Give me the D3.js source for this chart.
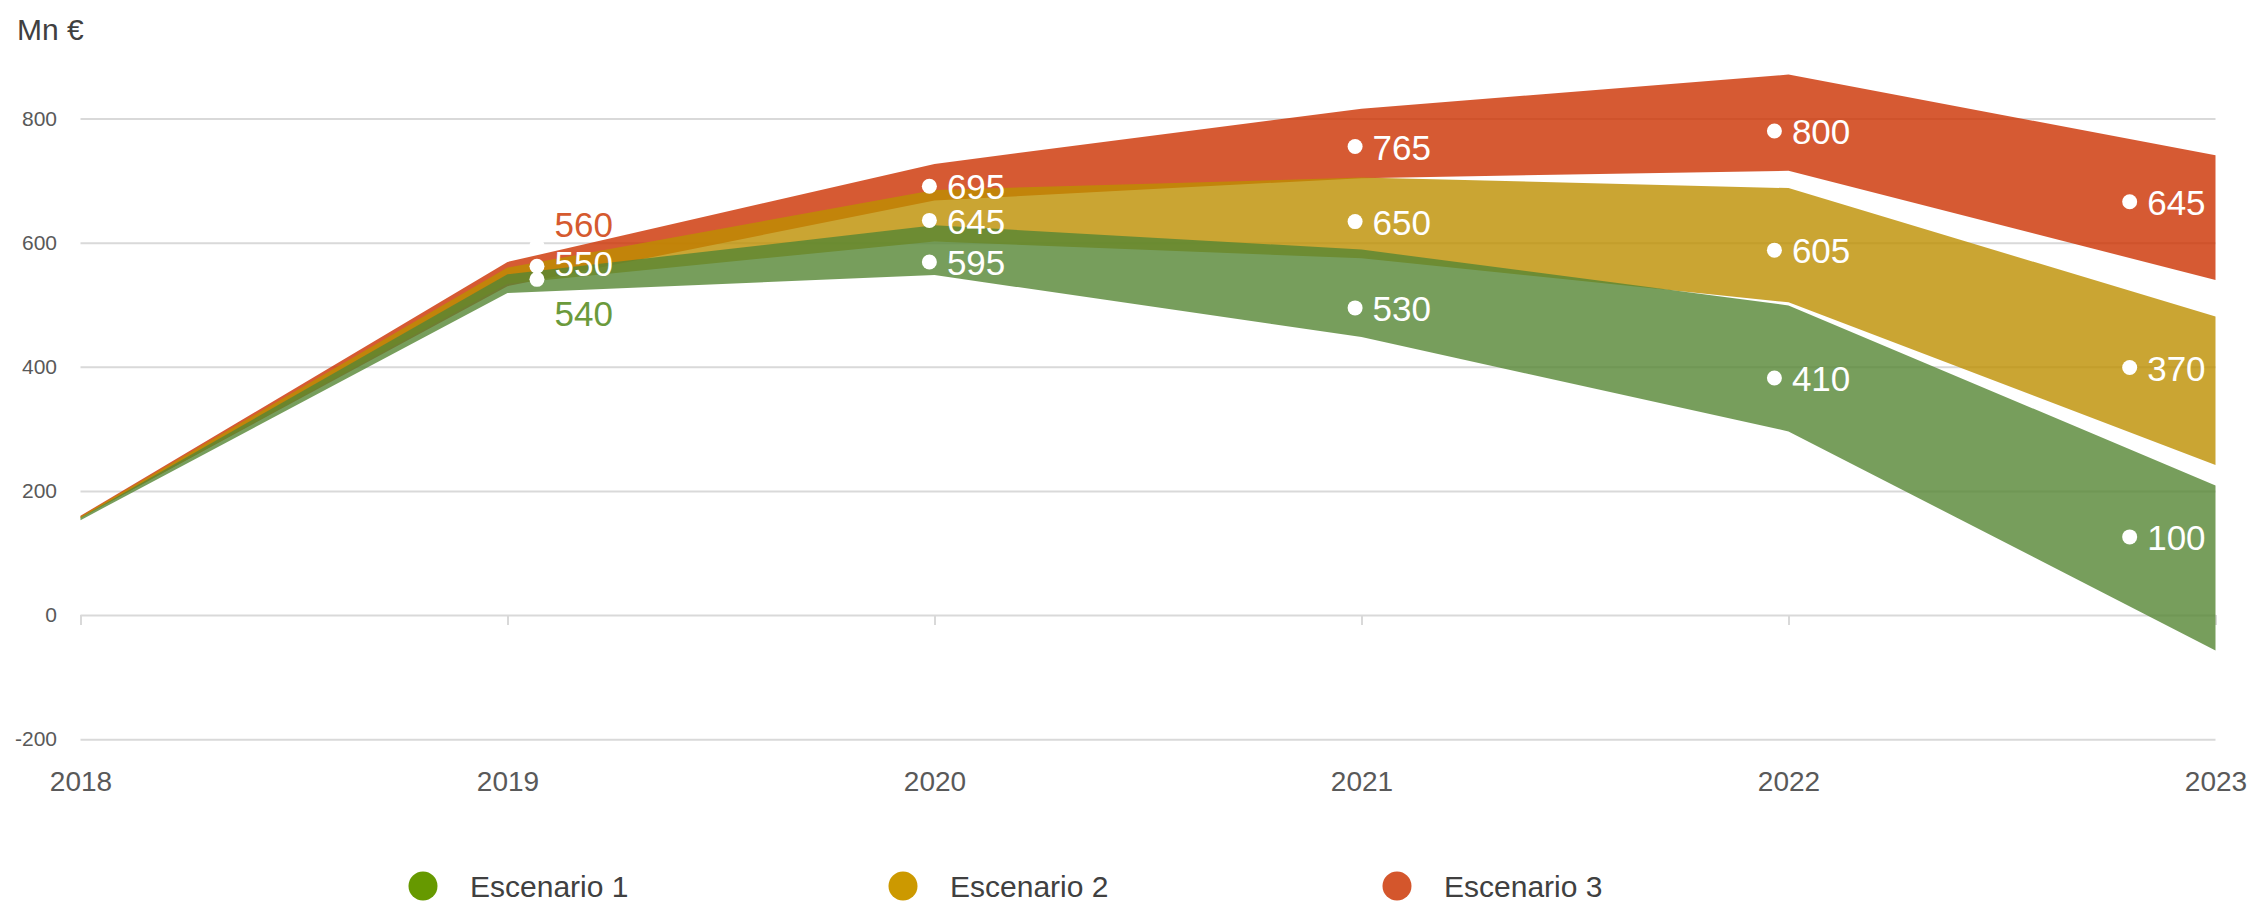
<!DOCTYPE html>
<html>
<head>
<meta charset="utf-8">
<script src="https://cdn.jsdelivr.net/npm/d3@7"></script>
<style>
  html, body { margin: 0; padding: 0; background: #ffffff; }
  svg { display: block; font-family: "Liberation Sans", Arial, sans-serif; }
</style>
</head>
<body>
<svg id="chart" width="2254" height="902"></svg>
<script>
// ---- data ----
const years = [2018, 2019, 2020, 2021, 2022, 2023];
const yTicks = [-200, 0, 200, 400, 600, 800];
const seriesNames = ["Escenario 1", "Escenario 2", "Escenario 3"];

// band lower / upper bounds (Mn €)
const esc1Low  = [153, 519, 548, 448, 296, -57];
const esc1High = [157, 549, 628, 589, 499, 209];
const esc2Low  = [156, 534, 602, 575, 504, 242];
const esc2High = [159, 560, 685, 705, 688, 481];
const esc3Low  = [157, 530, 668, 704, 716, 540];
const esc3High = [160, 569, 727, 816, 871, 741];

// marker points (x in years, y in Mn €) and their labels
const pointYears   = [2019.069, 2019.988, 2020.985, 2021.967, 2022.799];
const esc1Points   = [541, 569, 495, 382, 126];
const esc2Points   = [562, 636, 634, 588, 399];
const esc3Points   = [595, 691, 755, 780, 666];
const esc1Labels   = ["540", "595", "530", "410", "100"];
const esc2Labels   = ["550", "645", "650", "605", "370"];
const esc3Labels   = ["560", "695", "765", "800", "645"];

// ---- styles ----
const bandFill   = ["#558633", "#bd8e00", "#cc3100"];
const legendFill = ["#669900", "#cc9900", "#d4562c"];
const firstLabelColor = ["#6b9a3c", "#ffffff", "#d55a2f"];

const svg = d3.select("#chart");
const x = d3.scaleLinear().domain([2018, 2023]).range([80.5, 2215.5]);
const y = d3.scaleLinear().domain([-200, 800]).range([739.2, 118.6]);

// y axis with gridlines
const yAxis = svg.append("g")
  .attr("transform", `translate(${x(2018)},0)`)
  .call(d3.axisLeft(y).tickValues(yTicks).tickFormat(d => String(d))
        .tickSize(-(x(2023) - x(2018))).tickPadding(23.5));
yAxis.select(".domain").remove();
yAxis.selectAll(".tick line").attr("stroke", "#d9d9d9").attr("stroke-width", 2);
yAxis.selectAll(".tick text").attr("fill", "#595959").attr("font-size", 21)
  .attr("font-family", "Liberation Sans, Arial, sans-serif");

// x axis
const xAxis = svg.append("g")
  .attr("transform", `translate(0,${y(0)})`)
  .call(d3.axisBottom(x).tickValues(years).tickFormat(d => String(d))
        .tickSize(10).tickPadding(146));
xAxis.select(".domain").remove();
xAxis.selectAll(".tick line").attr("stroke", "#d9d9d9").attr("stroke-width", 2);
xAxis.selectAll(".tick text").attr("fill", "#595959").attr("font-size", 28)
  .attr("font-family", "Liberation Sans, Arial, sans-serif");

// bands
const bands = [
  {low: esc1Low, high: esc1High},
  {low: esc2Low, high: esc2High},
  {low: esc3Low, high: esc3High}
];
const area = d3.area()
  .x((d, i) => x(years[i]))
  .y0(d => y(d[0]))
  .y1(d => y(d[1]));
[2, 1, 0].forEach(s => {
  const pts = years.map((yr, i) => [bands[s].low[i], bands[s].high[i]]);
  svg.append("path").datum(pts)
    .attr("d", area)
    .attr("fill", bandFill[s])
    .attr("fill-opacity", 0.8);
});

// points and labels
const pointSets = [esc1Points, esc2Points, esc3Points];
const labelSets = [esc1Labels, esc2Labels, esc3Labels];
const firstShift = [34, -3, -21];
[2, 1, 0].forEach(s => {
  pointSets[s].forEach((v, i) => {
    svg.append("circle")
      .attr("cx", x(pointYears[i])).attr("cy", y(v)).attr("r", 7.5)
      .attr("fill", "#ffffff");
  });
});
[2, 1, 0].forEach(s => {
  pointSets[s].forEach((v, i) => {
    svg.append("text")
      .attr("x", x(pointYears[i]) + 17.5)
      .attr("y", y(v) + (i === 0 ? firstShift[s] : 1))
      .attr("dy", "0.35em")
      .attr("font-size", 35)
      .attr("fill", i === 0 ? firstLabelColor[s] : "#ffffff")
      .text(labelSets[s][i]);
  });
});

// unit title
svg.append("text").attr("x", 17).attr("y", 40)
  .attr("font-size", 30).attr("fill", "#404040").text("Mn €");

// legend
const legendX = [423, 903, 1397];
seriesNames.forEach((name, i) => {
  svg.append("circle").attr("cx", legendX[i]).attr("cy", 886).attr("r", 14.5)
    .attr("fill", legendFill[i]);
  svg.append("text").attr("x", legendX[i] + 47).attr("y", 897)
    .attr("font-size", 30).attr("fill", "#404040").text(name);
});
</script>
</body>
</html>
